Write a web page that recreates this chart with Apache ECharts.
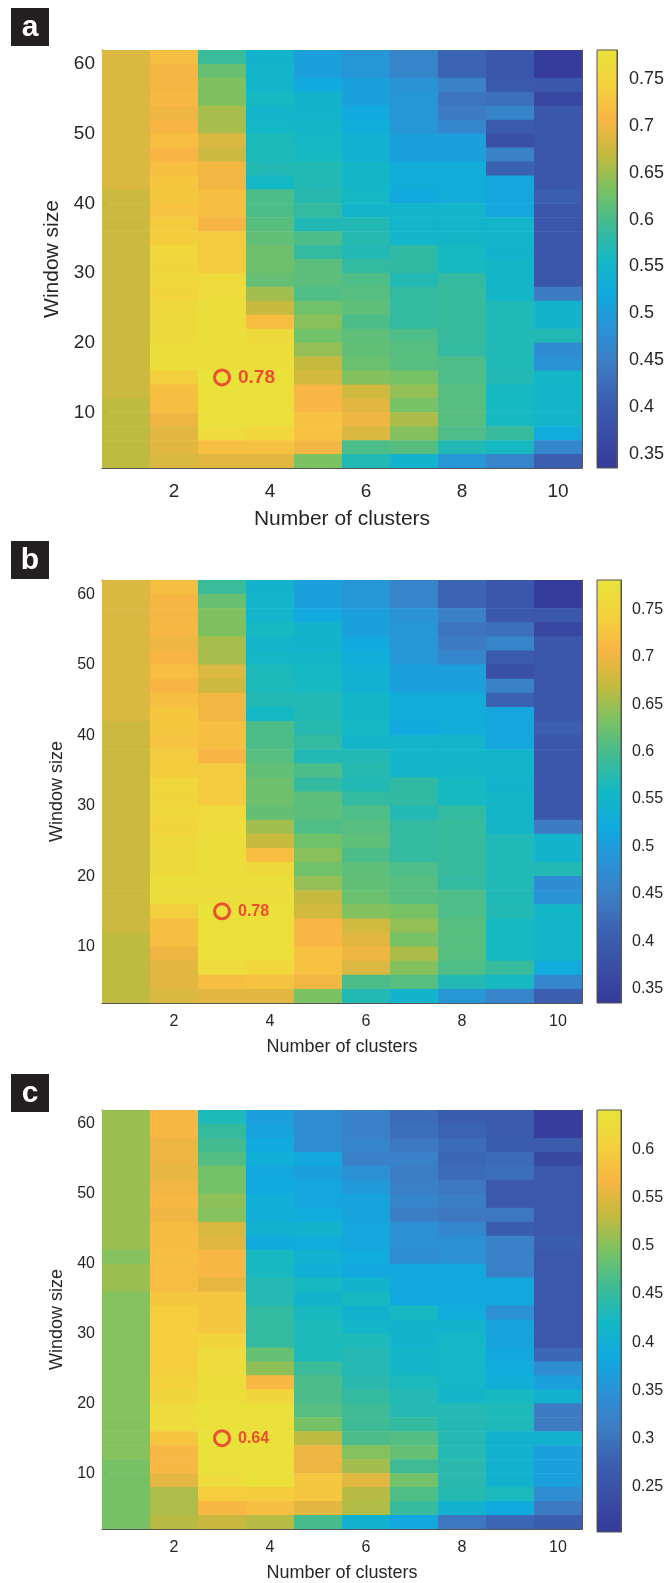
<!DOCTYPE html>
<html><head><meta charset="utf-8">
<script src="https://cdn.jsdelivr.net/npm/echarts@6/dist/echarts.min.js"></script>
<style>html,body{margin:0;padding:0;background:#fff}#chart{width:667px;height:1583px}</style>
</head><body><div id="chart"></div>
<script>
// ---------- data ----------
const clusters = [1, 2, 3, 4, 5, 6, 7, 8, 9, 10];
// window sizes, top row first
const windowSizes = [61, 59, 57, 55, 53, 51, 49, 47, 45, 43, 41, 39, 37, 35, 33, 31, 29, 27, 25, 23, 21, 19, 17, 15, 13, 11, 9, 7, 5, 3];
const xTicks = [2, 4, 6, 8, 10];
const yTicks = [10, 20, 30, 40, 50, 60];
const panelLetters = ['a', 'b', 'c'];
const rangeA = [0.335, 0.781];
const rangeB = [0.335, 0.781];
const rangeC = [0.203, 0.641];
const barTicksA = [0.35, 0.4, 0.45, 0.5, 0.55, 0.6, 0.65, 0.7, 0.75];
const barTicksB = [0.35, 0.4, 0.45, 0.5, 0.55, 0.6, 0.65, 0.7, 0.75];
const barTicksC = [0.25, 0.3, 0.35, 0.4, 0.45, 0.5, 0.55, 0.6];
const bestA = [3, 15, 0.78];
const bestB = [3, 15, 0.78];
const bestC = [3, 15, 0.64];

// each inner array: one cluster count (1..10), values from window 61 (top) to 3 (bottom)
const colsA = [
  [.685,.685,.685,.685,.685,.685,.685,.685,.685,.685,.675,.675,.675,.675,.675,.675,.675,.675,.675,.675,.675,.675,.675,.675,.675,.667,.667,.667,.667,.667],
  [.72,.705,.705,.71,.70,.706,.718,.707,.72,.728,.73,.726,.735,.738,.752,.75,.755,.748,.757,.76,.76,.77,.77,.74,.72,.72,.70,.69,.69,.685],
  [.59,.62,.635,.635,.655,.655,.685,.675,.702,.702,.72,.72,.707,.735,.735,.735,.762,.765,.77,.77,.77,.77,.77,.78,.775,.775,.775,.765,.72,.69],
  [.545,.55,.55,.56,.55,.555,.565,.565,.57,.557,.603,.603,.61,.616,.624,.624,.618,.652,.672,.718,.76,.77,.77,.772,.772,.772,.772,.752,.725,.69],
  [.505,.505,.52,.548,.548,.553,.557,.56,.57,.57,.575,.585,.57,.603,.585,.612,.612,.605,.626,.64,.626,.645,.67,.68,.708,.708,.722,.722,.702,.632],
  [.49,.49,.505,.505,.52,.528,.537,.537,.553,.553,.557,.55,.57,.573,.57,.585,.604,.61,.614,.603,.614,.616,.622,.636,.678,.69,.70,.685,.603,.57],
  [.46,.46,.485,.49,.49,.49,.505,.505,.53,.53,.52,.55,.55,.55,.582,.582,.57,.585,.585,.585,.604,.61,.61,.63,.645,.63,.658,.637,.61,.545],
  [.415,.415,.455,.435,.445,.465,.505,.505,.53,.53,.53,.55,.55,.553,.56,.56,.585,.588,.588,.588,.588,.585,.604,.604,.61,.61,.61,.604,.57,.49],
  [.39,.39,.395,.43,.46,.40,.375,.455,.41,.515,.515,.515,.55,.55,.545,.553,.553,.553,.568,.568,.568,.568,.568,.57,.56,.56,.56,.588,.56,.46],
  [.34,.34,.39,.36,.39,.39,.39,.39,.39,.39,.405,.39,.39,.39,.39,.39,.39,.445,.545,.545,.57,.475,.485,.553,.55,.55,.55,.525,.465,.405]
];
const colsB = [
  [.685,.685,.685,.685,.685,.685,.685,.685,.685,.685,.675,.675,.675,.675,.675,.675,.675,.675,.675,.675,.675,.675,.675,.675,.675,.667,.667,.667,.667,.667],
  [.72,.705,.705,.71,.70,.706,.718,.707,.72,.728,.73,.726,.735,.738,.752,.75,.755,.748,.757,.76,.76,.77,.77,.74,.72,.72,.70,.69,.69,.685],
  [.59,.62,.635,.635,.655,.655,.685,.675,.702,.702,.72,.72,.707,.735,.735,.735,.762,.765,.77,.77,.77,.77,.77,.78,.775,.775,.775,.765,.72,.69],
  [.545,.55,.55,.56,.55,.555,.565,.565,.57,.557,.603,.603,.61,.616,.624,.624,.618,.652,.672,.718,.76,.77,.77,.772,.772,.772,.772,.752,.725,.69],
  [.505,.505,.52,.548,.548,.553,.557,.56,.57,.57,.575,.585,.57,.603,.585,.612,.612,.605,.626,.64,.626,.645,.67,.68,.708,.708,.722,.722,.702,.632],
  [.49,.49,.505,.505,.52,.528,.537,.537,.553,.553,.557,.55,.57,.573,.57,.585,.604,.61,.614,.603,.614,.616,.622,.636,.678,.69,.70,.685,.603,.57],
  [.46,.46,.485,.49,.49,.49,.505,.505,.53,.53,.52,.55,.55,.55,.582,.582,.57,.585,.585,.585,.604,.61,.61,.63,.645,.63,.658,.637,.61,.545],
  [.415,.415,.455,.435,.445,.465,.505,.505,.53,.53,.53,.55,.55,.553,.56,.56,.585,.588,.588,.588,.588,.585,.604,.604,.61,.61,.61,.604,.57,.49],
  [.39,.39,.395,.43,.46,.40,.375,.455,.41,.515,.515,.515,.55,.55,.545,.553,.553,.553,.568,.568,.568,.568,.568,.57,.56,.56,.56,.588,.56,.46],
  [.34,.34,.39,.36,.39,.39,.39,.39,.39,.39,.405,.39,.39,.39,.39,.39,.39,.445,.545,.545,.57,.475,.485,.553,.55,.55,.55,.525,.465,.405]
];
const colsC = [
  [.51,.51,.51,.51,.51,.51,.51,.51,.51,.51,.50,.51,.51,.50,.50,.50,.50,.50,.50,.50,.50,.50,.50,.50,.50,.492,.492,.492,.492,.492],
  [.57,.57,.56,.56,.555,.563,.57,.562,.575,.576,.58,.578,.578,.59,.60,.60,.60,.60,.60,.605,.61,.625,.625,.588,.57,.57,.553,.52,.52,.525],
  [.43,.45,.46,.47,.49,.49,.505,.50,.545,.55,.57,.57,.556,.59,.59,.59,.608,.625,.625,.63,.63,.635,.635,.64,.635,.635,.625,.60,.57,.535],
  [.37,.375,.385,.395,.383,.385,.395,.395,.405,.388,.425,.425,.435,.435,.448,.448,.448,.482,.505,.57,.61,.635,.635,.635,.635,.635,.635,.597,.58,.525],
  [.34,.34,.34,.382,.37,.38,.38,.39,.41,.39,.405,.398,.425,.41,.425,.43,.43,.43,.455,.465,.465,.472,.492,.528,.56,.56,.59,.59,.553,.462],
  [.32,.32,.325,.32,.345,.36,.375,.375,.38,.38,.39,.383,.41,.425,.405,.415,.43,.435,.435,.44,.448,.457,.457,.465,.50,.515,.55,.525,.522,.405],
  [.29,.295,.305,.32,.315,.318,.325,.315,.345,.345,.34,.383,.383,.383,.425,.41,.41,.415,.415,.428,.435,.435,.448,.47,.482,.457,.49,.468,.452,.383],
  [.27,.28,.29,.285,.29,.305,.315,.305,.33,.345,.345,.383,.383,.383,.39,.41,.42,.42,.42,.42,.415,.435,.435,.435,.435,.44,.44,.437,.405,.305],
  [.265,.265,.27,.29,.295,.26,.26,.305,.27,.32,.32,.32,.383,.383,.345,.375,.375,.383,.39,.395,.425,.43,.43,.405,.405,.405,.405,.428,.385,.285],
  [.21,.21,.265,.23,.26,.26,.26,.26,.26,.27,.26,.26,.26,.26,.26,.26,.26,.285,.34,.37,.405,.31,.31,.405,.37,.37,.37,.34,.31,.27]
];

// ---------- styling ----------
const parula = ['#35399a','#3a4ea5','#3b60b1','#3d7dc4','#2a92d6','#10aade','#14b8c4','#40bb93','#7bc262','#c4ba3e','#f9b544','#f3d23c','#e8e33a'];
const FONT = '"Liberation Sans", Arial, Helvetica, sans-serif';
const INK = '#262626';
const BOX = '#555555';
const RED = '#ec2a2e';

const panels = [
  { cols: colsA, range: rangeA, barTicks: barTicksA, best: bestA, top: 50, height: 418, tick: 19, title: 21, bar: 18, ann: 19, xGap: 41, yGap: 32, xMargin: 14, barMargin: 12, letterTop: 8 },
  { cols: colsB, range: rangeB, barTicks: barTicksB, best: bestB, top: 580, height: 423, tick: 16, title: 18, bar: 16, ann: 16, xGap: 35, yGap: 30, xMargin: 11, barMargin: 11, letterTop: 541 },
  { cols: colsC, range: rangeC, barTicks: barTicksC, best: bestC, top: 1110, height: 422, tick: 16, title: 18, bar: 16, ann: 16, xGap: 35, yGap: 30, xMargin: 11, barMargin: 11, letterTop: 1074 }
];

function cellData(cols) {
  const out = [];
  cols.forEach((col, i) => col.forEach((v, j) => out.push([clusters[i], windowSizes[j], v])));
  return out;
}
const xStep = clusters[1] - clusters[0];
const yStep = windowSizes[0] - windowSizes[1];

function renderCell(params, api) {
  const x = api.value(0), y = api.value(1);
  const p0 = api.coord([x - xStep / 2, y + yStep / 2]);
  const p1 = api.coord([x + xStep / 2, y - yStep / 2]);
  return {
    type: 'rect',
    shape: { x: p0[0], y: p0[1], width: p1[0] - p0[0] + 0.6, height: p1[1] - p0[1] + 0.6 },
    style: { fill: api.visual('color') }
  };
}
function renderBar(params, api) {
  const p0 = api.coord([0, api.value(2)]);
  const p1 = api.coord([1, api.value(1)]);
  const stops = parula.map((c, k) => ({ offset: k / (parula.length - 1), color: c }));
  return {
    type: 'rect',
    shape: { x: p0[0], y: p0[1], width: p1[0] - p0[0], height: p1[1] - p0[1] },
    style: { fill: { type: 'linear', x: 0, y: 1, x2: 0, y2: 0, colorStops: stops }, stroke: BOX, lineWidth: 1 }
  };
}

const grid = [], xAxis = [], yAxis = [], series = [], visualMap = [], graphic = [];
panels.forEach((p, i) => {
  grid.push({ left: 102, top: p.top, width: 480, height: p.height });
  grid.push({ left: 597, top: p.top, width: 24, height: p.height });
  const g = 2 * i;
  const lineStyle = { color: BOX, width: 1 };
  const tickStyle = { color: INK, width: 1 };
  xAxis.push({
    gridIndex: g, type: 'value', position: 'bottom', min: 0.5, max: 10.5,
    axisLine: { show: true, onZero: false, lineStyle },
    axisTick: { show: true, inside: true, length: 5, customValues: xTicks, lineStyle: tickStyle },
    axisLabel: { customValues: xTicks, color: INK, fontSize: p.tick, fontFamily: FONT, margin: p.xMargin },
    splitLine: { show: false },
    name: 'Number of clusters', nameLocation: 'middle', nameGap: p.xGap,
    nameTextStyle: { color: INK, fontSize: p.title, fontFamily: FONT }
  });
  xAxis.push({
    gridIndex: g, type: 'value', position: 'top', min: 0.5, max: 10.5,
    axisLine: { show: true, onZero: false, lineStyle },
    axisTick: { show: true, inside: true, length: 5, customValues: xTicks, lineStyle: tickStyle },
    axisLabel: { show: false }, splitLine: { show: false }
  });
  xAxis.push({ gridIndex: g + 1, type: 'value', min: 0, max: 1, show: false });
  yAxis.push({
    gridIndex: g, type: 'value', position: 'left', min: 2, max: 62,
    axisLine: { show: true, onZero: false, lineStyle },
    axisTick: { show: true, inside: true, length: 5, customValues: yTicks, lineStyle: tickStyle },
    axisLabel: { customValues: yTicks, color: INK, fontSize: p.tick, fontFamily: FONT, margin: 7 },
    splitLine: { show: false },
    name: 'Window size', nameLocation: 'middle', nameGap: p.yGap,
    nameTextStyle: { color: INK, fontSize: p.title, fontFamily: FONT }
  });
  yAxis.push({
    gridIndex: g, type: 'value', position: 'right', min: 2, max: 62,
    axisLine: { show: true, onZero: false, lineStyle },
    axisTick: { show: true, inside: true, length: 5, customValues: yTicks, lineStyle: tickStyle },
    axisLabel: { show: false }, splitLine: { show: false }
  });
  yAxis.push({
    gridIndex: g + 1, type: 'value', position: 'right', min: p.range[0], max: p.range[1],
    axisLine: { show: true, onZero: false, lineStyle },
    axisTick: { show: true, inside: true, length: 4, customValues: p.barTicks, lineStyle: tickStyle },
    axisLabel: { customValues: p.barTicks, color: INK, fontSize: p.bar, fontFamily: FONT, margin: p.barMargin },
    splitLine: { show: false }
  });
  series.push({
    type: 'custom', xAxisIndex: 3 * i, yAxisIndex: 3 * i, data: cellData(p.cols),
    renderItem: renderCell, clip: true, silent: true, z: 1
  });
  series.push({
    type: 'scatter', xAxisIndex: 3 * i, yAxisIndex: 3 * i, data: [p.best],
    symbol: 'circle', symbolSize: 15, silent: true, z: 10,
    itemStyle: { color: 'rgba(0,0,0,0)', borderColor: RED, borderWidth: 3 },
    label: { show: true, position: 'right', distance: 7, color: RED, fontWeight: 'bold',
      fontSize: p.ann, fontFamily: FONT, formatter: (q) => q.value[2].toFixed(2) }
  });
  series.push({
    type: 'custom', xAxisIndex: 3 * i + 2, yAxisIndex: 3 * i + 2,
    data: [[0, p.range[0], p.range[1]]], renderItem: renderBar, silent: true, z: 1
  });
  visualMap.push({
    show: false, type: 'continuous', seriesIndex: 3 * i, dimension: 2,
    min: p.range[0], max: p.range[1], inRange: { color: parula }
  });
  graphic.push({
    type: 'group', left: 11, top: p.letterTop,
    children: [
      { type: 'rect', shape: { x: 0, y: 0, width: 38, height: 38 }, style: { fill: '#231f20' } },
      { type: 'text', x: 19, y: 20, style: { text: panelLetters[i], fill: '#ffffff', align: 'center',
        verticalAlign: 'middle', font: 'bold 30px ' + FONT } }
    ]
  });
});

const chart = echarts.init(document.getElementById('chart'), null, { renderer: 'canvas' });
chart.setOption({ animation: false, backgroundColor: '#ffffff', grid, xAxis, yAxis, series, visualMap, graphic });
</script>
</body></html>
